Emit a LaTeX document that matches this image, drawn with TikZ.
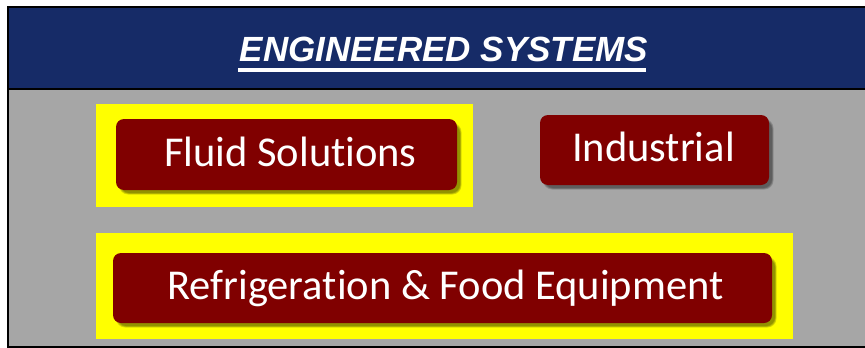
\documentclass[tikz,border=0pt]{standalone}
\usepackage{fontspec}
\setmainfont{Carlito}[Ligatures=NoCommon]
\newfontfamily\titlefont{Liberation Sans}
\begin{document}
\begin{tikzpicture}[x=1pt,y=-1pt,
  navy/.style={fill={rgb,255:red,22;green,43;blue,103}},
  panel/.style={fill={rgb,255:red,166;green,166;blue,166}},
  hilite/.style={fill={rgb,255:red,255;green,255;blue,0}, draw=none, inner sep=0pt, rectangle},
  unitbox/.style={fill={rgb,255:red,128;green,0;blue,0}, draw=none, rounded corners=8pt, inner sep=0pt, rectangle},
  unitlabel/.style={text=white, anchor=base, inner sep=0pt, font=\fontsize{42.5}{50}\selectfont},
  titlelabel/.style={text=white, anchor=base, inner sep=0pt, font=\titlefont\bfseries\itshape\fontsize{35}{40}\selectfont},
]
\useasboundingbox (0,0) rectangle (865,348);
% background panels
\fill[white] (0,0) rectangle (865,348);
\fill[navy] (8,7) rectangle (865,89);
\fill[panel] (8,89) rectangle (865,346);
\draw[line width=2pt] (865,7) -- (8,7) -- (8,347) -- (865,347);
\draw[line width=2.5pt] (8,89) -- (865,89);
% title with underline
\node[titlelabel] (title) at (444,61) {ENGINEERED SYSTEMS};
\fill[white] (238,68) rectangle (646,72);
% yellow highlights
\node[hilite, minimum width=377pt, minimum height=103pt] (hlfluid) at (284.5,155.5) {};
\node[hilite, minimum width=697pt, minimum height=106pt] (hlrefrig) at (444.5,286) {};
% soft drop shadows under the unit boxes
\foreach \cx/\cy/\w/\h in {286.5/154.5/341/71, 654.5/150/229/70, 442.5/288/659/70}{
  \foreach \s in {0,1,2,3}{
    \fill[black, opacity=0.13, rounded corners=9pt]
      (\cx-\w/2+3-\s/2+1.5, \cy-\h/2+4-\s/2+1.5) rectangle (\cx+\w/2+3+\s/2, \cy+\h/2+3+\s/2);
  }
}
% unit boxes
\node[unitbox, minimum width=341pt, minimum height=71pt] (fluid) at (286.5,154.5) {};
\node[unitbox, minimum width=229pt, minimum height=70pt] (industrial) at (654.5,150) {};
\node[unitbox, minimum width=659pt, minimum height=70pt] (refrig) at (442.5,288) {};
% labels
\node[unitlabel] (fluidtext) at (290.5,166) {Fluid Solutions};
\node[unitlabel] (industrialtext) at (653.5,161) {Industrial};
\node[unitlabel] (refrigtext) at (445.5,299) {Refrigeration \& Food Equipment};
\end{tikzpicture}
\end{document}
